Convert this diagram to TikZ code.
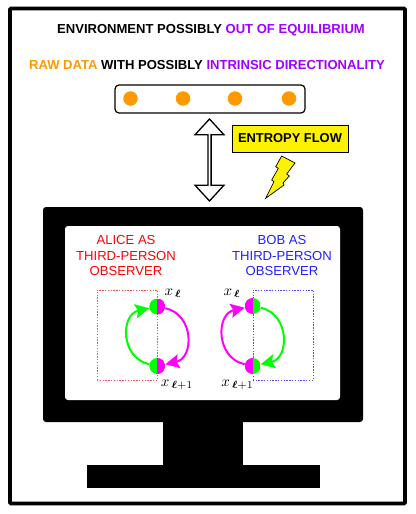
\documentclass[tikz,border=0pt]{standalone}
\usepackage{amsmath,amssymb}
\usepackage{fontspec}
\setmainfont{Liberation Sans}
\usepackage{xcolor}
\usetikzlibrary{positioning,arrows.meta,calc,shapes.arrows}
\definecolor{purplec}{RGB}{160,0,255}
\definecolor{orangec}{RGB}{255,153,0}
\definecolor{bluec}{RGB}{32,32,255}
\definecolor{greenc}{RGB}{0,255,0}
\definecolor{magentac}{RGB}{255,0,255}
\tikzset{
  headline/.style = {font=\fontsize{13.05}{15}\selectfont\bfseries, inner sep=0pt},
  observer/.style = {font=\fontsize{13.1}{15.5}\selectfont, align=center, inner sep=0pt},
  site/.style     = {circle, fill=orangec, minimum size=14.5pt, inner sep=0pt},
  solid/.style    = {fill=black, draw=none},
  spin/.style     = {circle, minimum size=16pt, inner sep=0pt},
  greenfirst/.style = {spin, path picture={
      \fill[greenc] (path picture bounding box.north west) rectangle (path picture bounding box.south);
      \fill[magentac] (path picture bounding box.north) rectangle (path picture bounding box.south east);}},
  magentafirst/.style = {spin, path picture={
      \fill[magentac] (path picture bounding box.north west) rectangle (path picture bounding box.south);
      \fill[greenc] (path picture bounding box.north) rectangle (path picture bounding box.south east);}},
  loopline/.style = {line width=2pt, -{Stealth[length=14pt,width=14pt,inset=2.5pt]}},
  window/.style   = {dash pattern=on 1.4pt off 1.4pt, line width=0.5pt},
  index/.style    = {scale=1.5, inner sep=0pt},
}
\begin{document}
\begin{tikzpicture}[x=1pt,y=-1pt]
\useasboundingbox (0,0) rectangle (415,514);

% outer frame and the two text lines
\node[draw, line width=3.6pt, rounded corners=1pt, minimum width=395pt, minimum height=495pt, inner sep=0pt] (frame) at (207.5,256) {};
\node[headline] (envline) at (211,30.5) {ENVIRONMENT POSSIBLY \textcolor{purplec}{OUT OF EQUILIBRIUM}};
\node[headline] (rawline) at (207,65.5) {\textcolor{orangec}{RAW DATA} WITH POSSIBLY \textcolor{purplec}{INTRINSIC DIRECTIONALITY}};

% raw data
\node[draw, line width=1.2pt, rounded corners=4pt, minimum width=190pt, minimum height=28pt, inner sep=0pt] (data) at (210,99) {};
\foreach \nm/\xx in {a/130.5,b/183,c/235,d/289}
  \node[site] (site\nm) at (\xx,98.5) {};

% exchange with the environment
\node[draw, line width=1.3pt, fill=white, shape=double arrow, shape border rotate=90, double arrow head extend=5.25pt,
      double arrow tip angle=85, minimum width=29pt, minimum height=82pt, inner sep=0pt] (exchange) at (209.5,160) {};
\node[draw, line width=1pt, fill=yellow, minimum width=116pt, minimum height=27pt, inner sep=0pt,
      font=\fontsize{12.9}{15}\selectfont\bfseries] (flow) at (290,138.5) {ENTROPY FLOW};
\draw[line width=0.7pt, fill=yellow, line join=miter] (281.7,156) -- (295,163) -- (286.7,174) -- (289.3,176) -- (283,183) -- (284,185)
  -- (265.7,198.3) -- (274,181.7) -- (271.7,180) -- (278.3,168.3) -- (275.7,166.7) -- cycle;

% monitor
\node[solid, rounded corners=3pt, minimum width=320pt, minimum height=215pt, inner sep=0pt] (monitor) at (203,314.5) {};
\node[solid, minimum width=80pt, minimum height=44pt, inner sep=0pt] (neck) at (203,443.5) {};
\node[solid, minimum width=233pt, minimum height=23pt, inner sep=0pt] (base) at (203.5,476.5) {};
\node[fill=white, rounded corners=3pt, minimum width=275pt, minimum height=174pt, inner sep=0pt] (screen) at (202.5,313) {};

% alice
\node[observer, text=red] (alice) at (126,255.5) {ALICE AS\\THIRD-PERSON\\OBSERVER};
\node[draw=red!70, window, minimum width=60.5pt, minimum height=90pt, inner sep=0pt] (awin) at (127.3,335) {};
\node[greenfirst] (atop) at (157.3,306.5) {};
\node[greenfirst] (abot) at (157.3,366) {};
\draw[loopline, greenc] (abot) .. controls ($(abot)+(-37,-8)$) and ($(atop)+(-37,8)$) .. (atop);
\draw[loopline, magentac] (atop) .. controls ($(atop)+(37,8)$) and ($(abot)+(37,-8)$) .. (abot);
\node[index] (altop) at (173,293) {$x_{\,\boldsymbol{\ell}}$};
\node[index] (albot) at (177,385) {$x_{\,\boldsymbol{\ell}+1}$};

% bob
\node[observer, text=bluec] (bob) at (282,255.5) {BOB AS\\THIRD-PERSON\\OBSERVER};
\node[draw=bluec!80, window, minimum width=60.5pt, minimum height=90pt, inner sep=0pt] (bwin) at (283,335) {};
\node[magentafirst] (btop) at (252.7,306) {};
\node[magentafirst] (bbot) at (252.7,366) {};
\draw[loopline, magentac] (bbot) .. controls ($(bbot)+(-37,-8)$) and ($(btop)+(-37,8)$) .. (btop);
\draw[loopline, greenc] (btop) .. controls ($(btop)+(37,8)$) and ($(bbot)+(37,-8)$) .. (bbot);
\node[index] (bltop) at (232,293) {$x_{\,\boldsymbol{\ell}}$};
\node[index] (blbot) at (237.5,385) {$x_{\,\boldsymbol{\ell}+1}$};

\end{tikzpicture}
\end{document}
